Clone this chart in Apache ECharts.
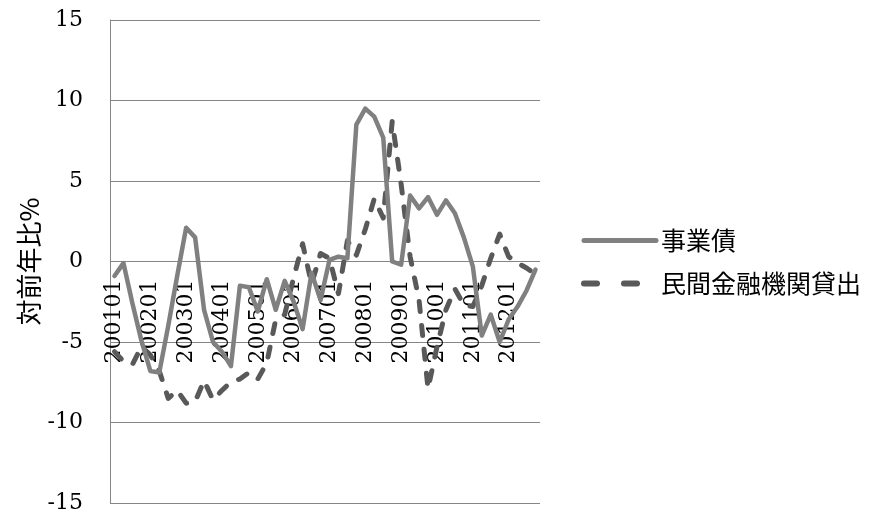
<!DOCTYPE html>
<html>
<head>
<meta charset="utf-8">
<script src="https://cdn.jsdelivr.net/npm/echarts@6/dist/echarts.min.js"></script>
<style>
  html, body { margin: 0; padding: 0; background: #ffffff; }
  #chart { width: 872px; height: 513px; }
</style>
</head>
<body>
<div id="chart"></div>
<script>
// Quarterly periods, 2001Q1 - 2012Q4 (YYYYMM of the quarter's first month)
const periods = [
  '200101','200104','200107','200110',
  '200201','200204','200207','200210',
  '200301','200304','200307','200310',
  '200401','200404','200407','200410',
  '200501','200504','200507','200510',
  '200601','200604','200607','200610',
  '200701','200704','200707','200710',
  '200801','200804','200807','200810',
  '200901','200904','200907','200910',
  '201001','201004','201007','201010',
  '201101','201104','201107','201110',
  '201201','201204','201207','201210'
];

// Year-on-year change, %
const bonds = [
  -0.9, -0.1, -2.6, -4.9,
  -6.8, -6.9, -4.0, -0.9,
   2.1,  1.5, -3.0, -5.0,
  -5.6, -6.5, -1.5, -1.6,
  -3.1, -1.1, -3.0, -1.2,
  -2.5, -4.2, -0.7, -2.4,
   0.1,  0.3,  0.2,  8.5,
   9.5,  9.0,  7.7,  0.0,
  -0.2,  4.1,  3.3,  4.0,
   2.9,  3.8,  3.0,  1.5,
  -0.3, -4.6, -3.3, -5.0,
  -3.6, -2.8, -1.8, -0.5
];

const loans = [
  -5.6, -6.2, -6.4, -5.3,
  -5.8, -6.8, -8.5, -8.0,
  -8.8, -8.7, -7.4, -8.6,
  -8.0, -7.5, -7.3, -6.9,
  -7.3, -6.3, -3.6, -3.3,
  -1.0,  1.1, -1.4,  0.5,
   0.2, -2.0,  1.3,  0.4,
   2.0,  3.9,  2.7,  8.7,
   4.8,  0.3, -2.4, -7.9,
  -5.3, -3.0, -1.7, -2.7,
  -2.8, -1.5,  0.2,  1.7,
   0.3, -0.1, -0.4, -0.8
];

const seriesNames = ['事業債', '民間金融機関貸出'];
const yTicks = { min: -15, max: 15, step: 5 };

const serifFont = '"DejaVu Serif", "Liberation Serif", serif';
const gothicFont = '"Noto Sans CJK JP", "Noto Sans", sans-serif';

const bondColor = '#808080';
const loanColor = '#595959';
const gridColor = '#868686';

const gridTop = 20;
const gridBottom = 10;
const plotHeight = 513 - gridTop - gridBottom;
// The category axis sits on the zero line, half way up the symmetric value range
const zeroOffset = -plotHeight * (0 - yTicks.min) / (yTicks.max - yTicks.min);

const chart = echarts.init(document.getElementById('chart'), null, { renderer: 'canvas' });

chart.setOption({
  animation: false,
  backgroundColor: '#ffffff',
  grid: { left: 110, right: 332, top: gridTop, bottom: gridBottom, containLabel: false, outerBoundsMode: 'none' },
  legend: {
    orient: 'vertical',
    left: 576,
    top: 223,
    itemWidth: 72,
    itemHeight: 12,
    itemGap: 18,
    textStyle: { fontFamily: gothicFont, fontSize: 25, color: '#000000' },
    itemStyle: { color: 'rgba(0,0,0,0)', opacity: 0, borderWidth: 0 },
    data: [
      { name: seriesNames[0], lineStyle: { color: bondColor, width: 5, cap: 'round' } },
      { name: seriesNames[1], lineStyle: { color: loanColor, width: 6, type: [13, 27], cap: 'round' } }
    ]
  },
  xAxis: {
    type: 'category',
    data: periods,
    boundaryGap: true,
    position: 'bottom',
    offset: zeroOffset,
    axisLine: { show: false, onZero: false },
    axisTick: { show: false },
    axisLabel: {
      show: true,
      interval: 3,
      rotate: 90,
      margin: 18,
      fontFamily: serifFont,
      fontSize: 22,
      color: '#000000'
    },
    splitLine: { show: false }
  },
  yAxis: {
    type: 'value',
    min: yTicks.min,
    max: yTicks.max,
    interval: yTicks.step,
    name: '対前年比%',
    nameLocation: 'middle',
    nameRotate: 90,
    nameGap: 68,
    nameTextStyle: { fontFamily: gothicFont, fontSize: 26, color: '#000000' },
    axisLine: { show: true, lineStyle: { color: gridColor, width: 1 } },
    axisTick: { show: false },
    axisLabel: {
      margin: 27,
      fontFamily: serifFont,
      fontSize: 22,
      color: '#000000'
    },
    splitLine: { show: true, lineStyle: { color: gridColor, width: 1 } }
  },
  series: [
    {
      name: seriesNames[0],
      type: 'line',
      data: bonds,
      symbol: 'none',
      color: bondColor,
      lineStyle: { color: bondColor, width: 4.5, cap: 'round', join: 'round' },
      z: 3
    },
    {
      name: seriesNames[1],
      type: 'line',
      data: loans,
      symbol: 'none',
      color: loanColor,
      lineStyle: { color: loanColor, width: 5, type: [10, 14], cap: 'round', join: 'round' },
      z: 2
    }
  ]
});
</script>
</body>
</html>
